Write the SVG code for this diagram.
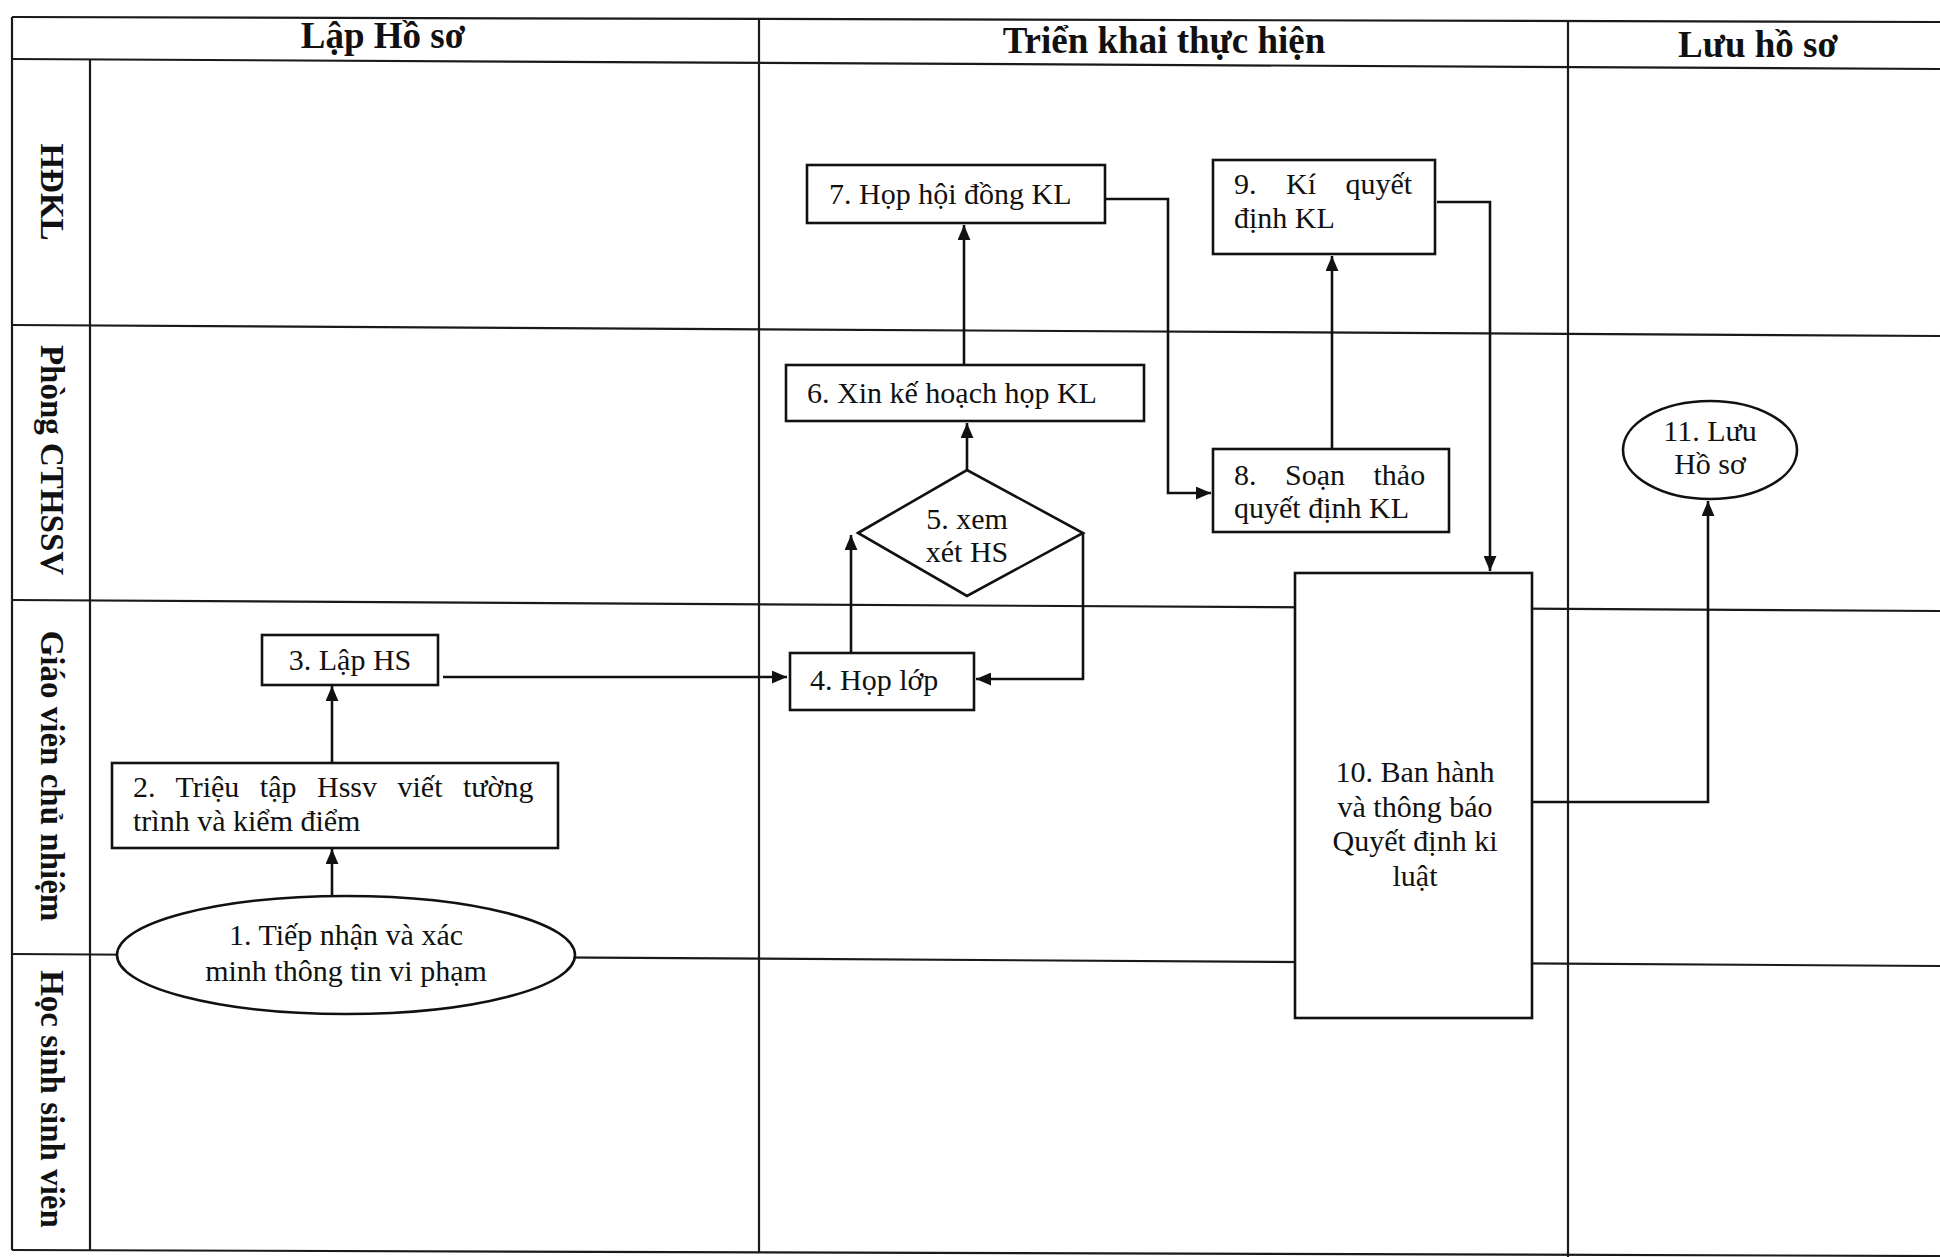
<svg xmlns="http://www.w3.org/2000/svg" width="1940" height="1257" viewBox="0 0 1940 1257">
<style>
.grid{stroke:#1a1a1a;stroke-width:2.2;fill:none}
.box{fill:#fff;stroke:#111;stroke-width:2.6}
.t{font-family:"Liberation Serif","Times New Roman",serif;font-size:30px;fill:#111}
.h{font-family:"Liberation Serif","Times New Roman",serif;font-size:37px;font-weight:bold;fill:#111;text-anchor:middle}
.lane{font-family:"Liberation Serif","Times New Roman",serif;font-size:33px;font-weight:bold;fill:#111;text-anchor:middle;dominant-baseline:central}
.c{text-anchor:middle}
.con{fill:none;stroke:#111;stroke-width:2.6}
</style>
<defs>
<marker id="arr" viewBox="0 0 14 12" refX="14" refY="6" markerWidth="15" markerHeight="13" markerUnits="userSpaceOnUse" orient="auto">
<path d="M0,0 L14,6 L0,12 z" fill="#111"/>
</marker>
</defs>
<rect width="1940" height="1257" fill="#fff"/>
<g id="grid" class="grid">
<line x1="12" y1="17" x2="1940" y2="22"/>
<line x1="12" y1="59" x2="1940" y2="69"/>
<line x1="12" y1="325" x2="1940" y2="336"/>
<line x1="12" y1="600" x2="1940" y2="611"/>
<line x1="12" y1="954" x2="1940" y2="966"/>
<line x1="12" y1="1250" x2="1940" y2="1256"/>
<line x1="12" y1="17" x2="12" y2="1250"/>
<line x1="90" y1="59" x2="90" y2="1250"/>
<line x1="759" y1="19" x2="759" y2="1253"/>
<line x1="1568" y1="21" x2="1568" y2="1257"/>
</g>
<g id="headers">
<text class="h" x="383" y="48">Lập Hồ sơ</text>
<text class="h" x="1164" y="53">Triển khai thực hiện</text>
<text class="h" x="1758" y="57">Lưu hồ sơ</text>
</g>
<g id="lanes">
<text class="lane" transform="translate(52,192) rotate(90)">HĐKL</text>
<text class="lane" transform="translate(52,460) rotate(90)">Phòng CTHSSV</text>
<text class="lane" transform="translate(52,776) rotate(90)">Giáo viên chủ nhiệm</text>
<text class="lane" transform="translate(52,1099) rotate(90)">Học sinh sinh viên</text>
</g>
<g id="connectors">
<path class="con" d="M332,896 L332,849" marker-end="url(#arr)"/>
<path class="con" d="M332,762 L332,686" marker-end="url(#arr)"/>
<path class="con" d="M443,677 L787,677" marker-end="url(#arr)"/>
<path class="con" d="M851,653 L851,535" marker-end="url(#arr)"/>
<path class="con" d="M1083,533 L1083,679 L976,679" marker-end="url(#arr)"/>
<path class="con" d="M967,470 L967,423" marker-end="url(#arr)"/>
<path class="con" d="M964,365 L964,225" marker-end="url(#arr)"/>
<path class="con" d="M1105,199 L1168,199 L1168,493 L1211,493" marker-end="url(#arr)"/>
<path class="con" d="M1332,449 L1332,256" marker-end="url(#arr)"/>
<path class="con" d="M1437,202 L1490,202 L1490,571" marker-end="url(#arr)"/>
<path class="con" d="M1532,802 L1708,802 L1708,501" marker-end="url(#arr)"/>
</g>
<g id="n1">
<ellipse class="box" cx="346" cy="955" rx="229" ry="59"/>
<text class="t c" x="346" y="945">1. Tiếp nhận và xác</text>
<text class="t c" x="346" y="981">minh thông tin vi phạm</text>
</g>
<g id="n2">
<rect class="box" x="112" y="763" width="446" height="85"/>
<text class="t" x="133" y="797" word-spacing="13">2. Triệu tập Hssv viết tường</text>
<text class="t" x="133" y="831">trình và kiểm điểm</text>
</g>
<g id="n3">
<rect class="box" x="262" y="635" width="176" height="50"/>
<text class="t c" x="350" y="670">3. Lập HS</text>
</g>
<g id="n4">
<rect class="box" x="790" y="653" width="184" height="57"/>
<text class="t" x="810" y="690">4. Họp lớp</text>
</g>
<g id="n5">
<polygon class="box" points="858,533 967,470 1083,533 967,596"/>
<text class="t c" x="967" y="529" font-size="27">5. xem</text>
<text class="t c" x="967" y="562" font-size="27">xét HS</text>
</g>
<g id="n6">
<rect class="box" x="786" y="365" width="358" height="56"/>
<text class="t" x="807" y="403">6. Xin kế hoạch họp KL</text>
</g>
<g id="n7">
<rect class="box" x="807" y="165" width="298" height="58"/>
<text class="t" x="829" y="204">7. Họp hội đồng KL</text>
</g>
<g id="n8">
<rect class="box" x="1213" y="449" width="236" height="83"/>
<text class="t" x="1234" y="485" word-spacing="21">8. Soạn thảo</text>
<text class="t" x="1234" y="518">quyết định KL</text>
</g>
<g id="n9">
<rect class="box" x="1213" y="160" width="222" height="94"/>
<text class="t" x="1234" y="194" word-spacing="22">9. Kí quyết</text>
<text class="t" x="1234" y="228">định KL</text>
</g>
<g id="n10">
<rect class="box" x="1295" y="573" width="237" height="445"/>
<text class="t c" x="1415" y="782">10. Ban hành</text>
<text class="t c" x="1415" y="817">và thông báo</text>
<text class="t c" x="1415" y="851">Quyết định ki</text>
<text class="t c" x="1415" y="886">luật</text>
</g>
<g id="n11">
<ellipse class="box" cx="1710" cy="450" rx="87" ry="49"/>
<text class="t c" x="1710" y="441" font-size="21">11. Lưu</text>
<text class="t c" x="1710" y="474" font-size="21">Hồ sơ</text>
</g>
</svg>
